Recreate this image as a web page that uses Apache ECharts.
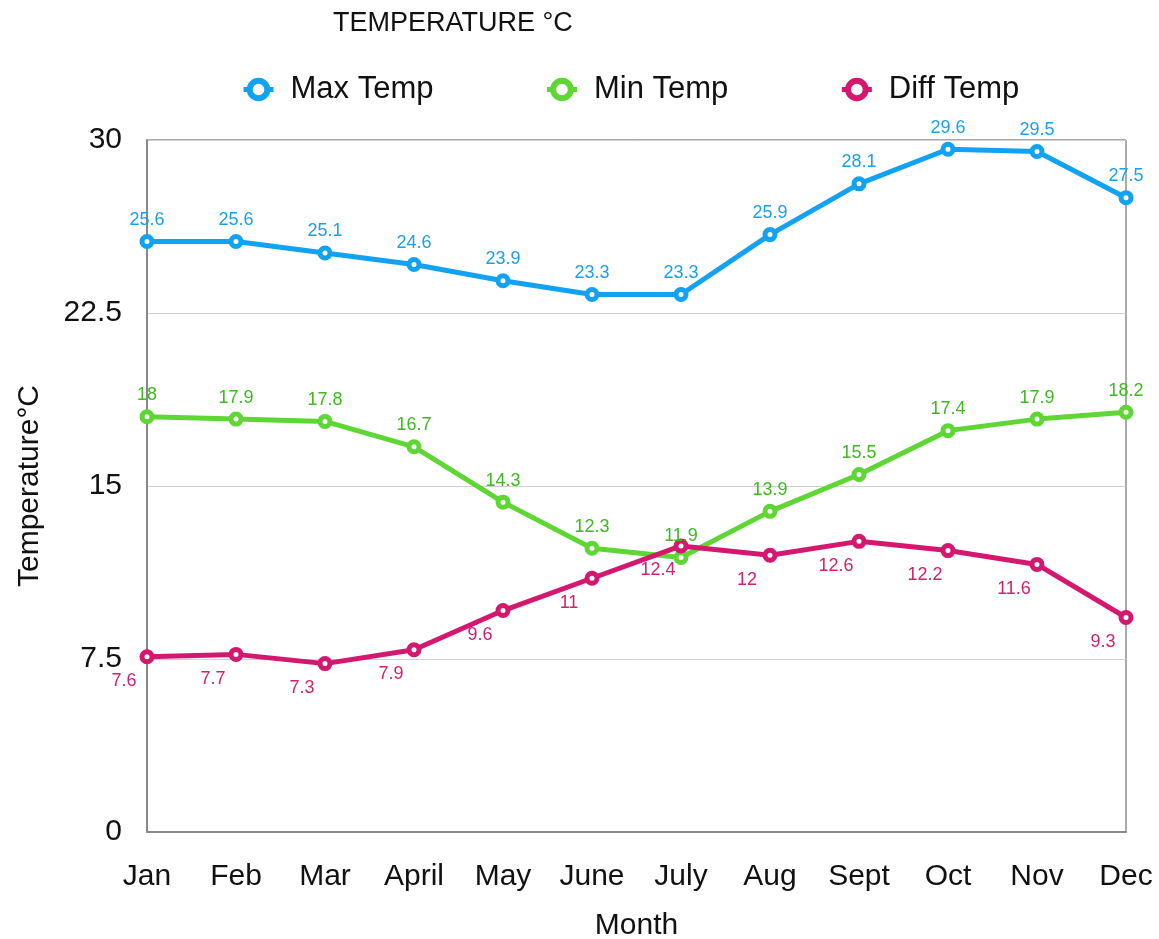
<!DOCTYPE html>
<html>
<head>
<meta charset="utf-8">
<script src="https://cdn.jsdelivr.net/npm/echarts@6/dist/echarts.min.js"></script>
<style>html,body{margin:0;padding:0;background:#fff;}#c{width:1159px;height:939px;}</style>
</head>
<body>
<div id="c"></div>
<script>
var months = ['Jan','Feb','Mar','April','May','June','July','Aug','Sept','Oct','Nov','Dec'];
var maxTemp = [25.6,25.6,25.1,24.6,23.9,23.3,23.3,25.9,28.1,29.6,29.5,27.5];
var minTemp = [18,17.9,17.8,16.7,14.3,12.3,11.9,13.9,15.5,17.4,17.9,18.2];
var diffTemp = [7.6,7.7,7.3,7.9,9.6,11,12.4,12,12.6,12.2,11.6,9.3];
var yTicks = [0,7.5,15,22.5,30];

var FONT = '"Liberation Sans", Arial, Helvetica, sans-serif';
var chart = echarts.init(document.getElementById('c'));

function mkSeries(name, data, color, labelColor, pos, offset) {
  return {
    name: name, type: 'line', data: data,
    symbol: 'circle', symbolSize: 10,
    lineStyle: {width: 5, color: color},
    itemStyle: {color: '#ffffff', borderColor: color, borderWidth: 5},
    label: {show: true, position: pos, offset: offset, color: labelColor, fontSize: 18, fontFamily: FONT},
    emphasis: {disabled: true},
    z: 3
  };
}

chart.setOption({
  animation: false,
  backgroundColor: '#fff',
  textStyle: {fontFamily: FONT},
  title: {
    text: 'TEMPERATURE °C', left: 328, top: 5,
    textStyle: {fontSize: 27, fontWeight: 'normal', color: '#111', fontFamily: FONT}
  },
  legend: {
    top: 69, left: 236,
    itemWidth: 30, itemHeight: 22, itemGap: 111,
    itemStyle: {borderWidth: 6},
    lineStyle: {width: 5},
    textStyle: {fontSize: 31, color: '#111', fontFamily: FONT, padding: [0,0,0,12]},
    data: ['Max Temp','Min Temp','Diff Temp']
  },
  grid: {
    left: 147, right: 33, top: 140, bottom: 107,
    show: true, borderColor: '#555', borderWidth: 1, containLabel: false,
    outerBoundsMode: 'none'
  },
  xAxis: {
    type: 'category', data: months, boundaryGap: false,
    name: 'Month', nameLocation: 'middle', nameGap: 79,
    nameTextStyle: {fontSize: 30, color: '#111', fontFamily: FONT},
    axisLine: {lineStyle: {color: '#888', width: 2}},
    axisTick: {show: false},
    axisLabel: {fontSize: 30, color: '#111', margin: 30, fontFamily: FONT},
    splitLine: {show: false}
  },
  yAxis: {
    type: 'value', min: 0, max: 30, interval: 7.5,
    name: 'Temperature°C', nameLocation: 'middle', nameGap: 102, nameRotate: 90,
    nameTextStyle: {fontSize: 30, color: '#111', fontFamily: FONT},
    axisLine: {show: true, lineStyle: {color: '#888', width: 2}},
    axisTick: {show: false},
    axisLabel: {fontSize: 30, color: '#111', margin: 25, fontFamily: FONT,
      formatter: function(v){ return yTicks.indexOf(v) >= 0 ? String(v) : ''; }},
    splitLine: {show: true, lineStyle: {color: '#d0d0d0', width: 1}}
  },
  series: [
    mkSeries('Max Temp', maxTemp, '#12a2f2', '#1a9ff0', 'top', [0, 0]),
    mkSeries('Min Temp', minTemp, '#5ed634', '#3eb922', 'top', [0, 0]),
    mkSeries('Diff Temp', diffTemp, '#d4176f', '#d42070', 'bottom', [-23, 3])
  ]
});
</script>
</body>
</html>
